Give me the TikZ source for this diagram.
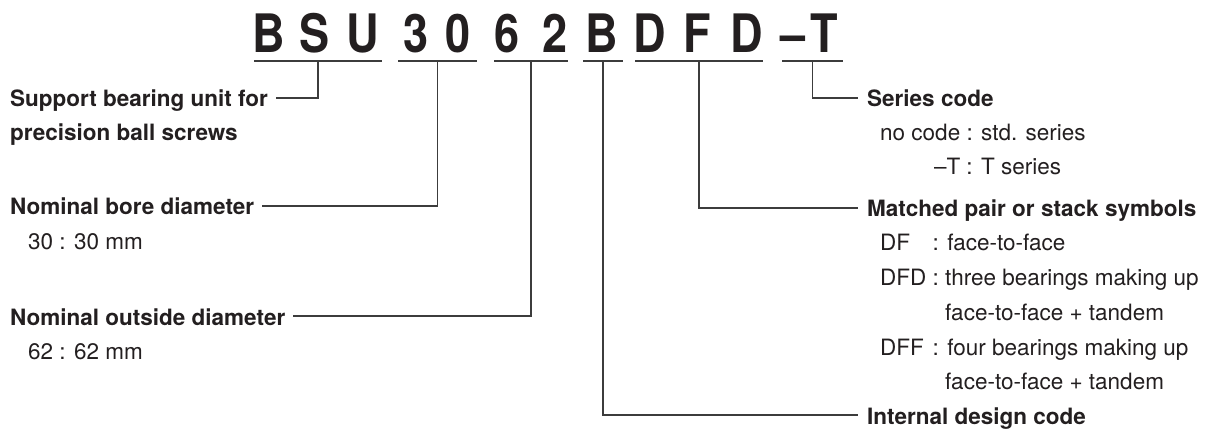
\documentclass[tikz,border=0pt]{standalone}
\usepackage{fontspec}
\setmainfont{TeX Gyre Heros}
\usetikzlibrary{calc}
\definecolor{ink}{HTML}{231F20}
\definecolor{wire}{HTML}{3C3C3C}
\begin{document}
\begin{tikzpicture}[x=1pt,y=-1pt,
  code/.style={anchor=base,inner sep=0pt,text=ink,font=\fontsize{53}{53}\selectfont\bfseries},
  head/.style={anchor=base west,inner sep=0pt,text=ink,font=\fontsize{22.5}{26}\selectfont\bfseries,text height=18pt,text depth=0pt},
  body/.style={anchor=base west,inner sep=0pt,text=ink,font=\fontsize{22.5}{26}\selectfont},
  uline/.style={draw=wire,line width=1.3pt},
  conn/.style={draw=wire,line width=1.3pt}]
\useasboundingbox[fill=white] (0,0) rectangle (1210,430);

% code letters
\node[code] (c1)  at (269,53) {\scalebox{0.85}[1]{B}};
\node[code] (c2)  at (315,53) {\scalebox{0.85}[1]{S}};
\node[code] (c3)  at (363,53) {\scalebox{0.85}[1]{U}};
\node[code] (c4)  at (416,53) {\scalebox{0.85}[1]{3}};
\node[code] (c5)  at (458,53) {\scalebox{0.85}[1]{0}};
\node[code] (c6)  at (507,53) {\scalebox{0.85}[1]{6}};
\node[code] (c7)  at (555,53) {\scalebox{0.85}[1]{2}};
\node[code] (c8)  at (602,53) {\scalebox{0.85}[1]{B}};
\node[code] (c9)  at (650,53) {\scalebox{0.85}[1]{D}};
\node[code] (c10) at (697,53) {\scalebox{0.85}[1]{F}};
\node[code] (c11) at (747,53) {\scalebox{0.85}[1]{D}};
\node[code] (c12) at (793,53) {\scalebox{0.85}[1]{–}};
\node[code] (c13) at (824,53) {\scalebox{0.85}[1]{T}};

% underline end points
\coordinate (uBSUa) at (254,61); \coordinate (uBSUb) at (382,61);
\coordinate (u30a)  at (398,61); \coordinate (u30b)  at (477,61);
\coordinate (u62a)  at (494,61); \coordinate (u62b)  at (568,61);
\coordinate (uBa)   at (583,61); \coordinate (uBb)   at (623,61);
\coordinate (uDFDa) at (635,61); \coordinate (uDFDb) at (763,61);
\coordinate (uTa)   at (782,61); \coordinate (uTb)   at (843,61);
\foreach \g in {BSU,30,62,B,DFD,T}{
  \draw[uline] (u\g a) -- (u\g b);
  \coordinate (m\g) at ($(u\g a)!0.5!(u\g b)$);
}

% left labels
\node[head] (lSupport)   at (10,107) {Support bearing unit for};
\node[head] (lPrecision) at (10,141) {precision ball screws};
\node[head] (lBore)      at (10,215) {Nominal bore diameter};
\node[body] (vBore)      at (28,250) {30 : 30 mm};
\node[head] (lOutside)   at (10,325) {Nominal outside diameter};
\node[body] (vOutside)   at (28,359) {62 : 62 mm};

% right labels
\node[head] (lSeries)  at (867,107) {Series code};
\node[body] (vSer1)    at (880,141) {no code : std. series};
\node[body] (vSer2)    at (880,175) {\hphantom{no code }\llap{–T }: T series};
\node[head] (lMatched) at (867,217) {Matched pair or stack symbols};
\node[body] (vDF)      at (880,251) {\rlap{DF}\hphantom{DFD} : face-to-face};
\node[body] (vDFD)     at (880,286) {DFD : three bearings making up};
\node[body] (vDFD2)    at (880,320) {\hphantom{DFD : }face-to-face + tandem};
\node[body] (vDFF)     at (880,355) {\rlap{DFF}\hphantom{DFD} : four bearings making up};
\node[body] (vDFF2)    at (880,389) {\hphantom{DFD : }face-to-face + tandem};
\node[head] (lInternal) at (867,424) {Internal design code};

% connectors
\draw[conn] (mBSU) |- ([xshift=8pt]lSupport.east);
\draw[conn] (m30)  |- ([xshift=8pt]lBore.east);
\draw[conn] (m62)  |- ([xshift=8pt]lOutside.east);
\draw[conn] (mB)   |- ([xshift=-9pt]lInternal.west);
\draw[conn] (mDFD) |- ([xshift=-9pt]lMatched.west);
\draw[conn] (mT)   |- ([xshift=-9pt]lSeries.west);
\end{tikzpicture}
\end{document}
